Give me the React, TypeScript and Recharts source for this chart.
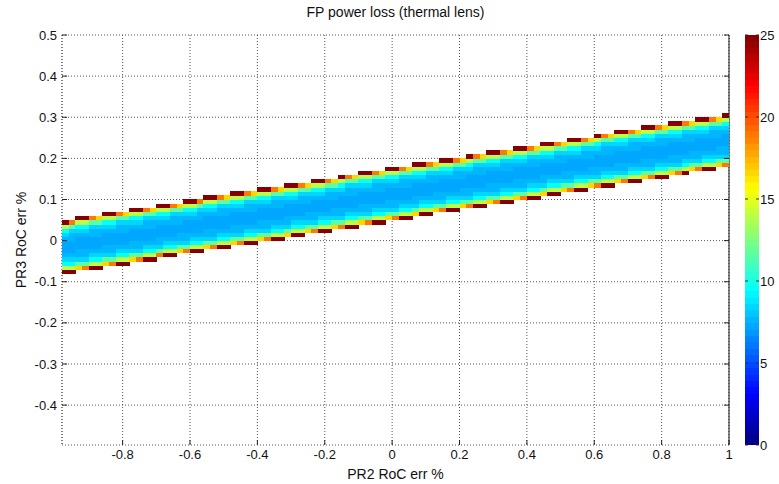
import { Bar, BarChart, CartesianGrid, Scatter, ScatterChart, XAxis, YAxis } from "recharts"

// PR2 RoC error grid (column centres, %) and PR3 RoC error grid (row centres, %)
const pr2First = -0.97
const pr2Step = 0.02
const pr2Count = 99
const pr3First = -0.495
const pr3Step = 0.01
const pr3Count = 100

// where the finite-loss band runs out, read at the first and last column
const bandPR2 = [-0.97, 0.99]
const bandUpper = [0.0498, 0.3075]
const bandLower = [-0.0793, 0.1784]

// loss (%) of a cell by how deep its centre sits inside the band edge (in rows)
const edgeDepth = [0, 0.5, 0.75, 1, 1.5, 2, 2.5, 3.5, 5]
const edgeLoss = [25, 19, 16.5, 14, 11.5, 9.5, 8.5, 7.6, 7.2]

const xTicks = [-0.8, -0.6, -0.4, -0.2, 0, 0.2, 0.4, 0.6, 0.8, 1]
const yTicks = [-0.4, -0.3, -0.2, -0.1, 0, 0.1, 0.2, 0.3, 0.4, 0.5]
const colorTicks = [0, 5, 10, 15, 20, 25]

const X_DOMAIN: [number, number] = [-0.98, 1]
const Y_DOMAIN: [number, number] = [-0.497, 0.5]
const C_MAX = 25

const W = 779
const H = 484
const PLOT = { left: 62, top: 35, right: 729, bottom: 445 }
const FONT = "'Liberation Sans', Arial, Helvetica, sans-serif"

function jet(v: number) {
  const idx = Math.min(63, Math.max(0, Math.floor((v / C_MAX) * 64)))
  const t = (idx + 0.5) / 64
  const ch = (k: number) => Math.round(255 * Math.min(1, Math.max(0, 1.5 - Math.abs(4 * t - k))))
  return `rgb(${ch(3)},${ch(2)},${ch(1)})`
}

function lossAt(depth: number) {
  let i = 0
  while (i + 1 < edgeDepth.length && depth >= edgeDepth[i + 1]) i++
  return edgeLoss[i]
}

type Cell = { x: number; y: number; loss: number }

const cells: Cell[] = []
for (let c = 0; c < pr2Count; c++) {
  const x = pr2First + c * pr2Step
  const f = (x - bandPR2[0]) / (bandPR2[1] - bandPR2[0])
  const top = bandUpper[0] + f * (bandUpper[1] - bandUpper[0])
  const bot = bandLower[0] + f * (bandLower[1] - bandLower[0])
  for (let r = 0; r < pr3Count; r++) {
    const y = pr3First + r * pr3Step
    if (y > top || y < bot) continue
    const depth = Math.min(top - y, y - bot) / pr3Step
    cells.push({ x, y, loss: lossAt(depth) })
  }
}

const plotW = PLOT.right - PLOT.left
const plotH = PLOT.bottom - PLOT.top
const cellW = (plotW * pr2Step) / (X_DOMAIN[1] - X_DOMAIN[0])
const cellH = (plotH * pr3Step) / (Y_DOMAIN[1] - Y_DOMAIN[0])

const CellShape = (props: any) => {
  const { cx, cy, payload } = props
  return (
    <rect
      x={cx - cellW / 2}
      y={cy - cellH / 2}
      width={cellW + 0.4}
      height={cellH + 0.4}
      fill={jet(payload.loss)}
      shapeRendering="crispEdges"
    />
  )
}

const fmt = (v: number) => String(v)
const TM = 5 // tick margin
const TL = 5 // inward tick length

const LeftTick = ({ x, y, payload }: any) => {
  const ax = x + TM
  return (
    <g>
      <line x1={ax} x2={ax + TL} y1={y} y2={y} stroke="#222" />
      <text x={x} y={y} dy="0.35em" textAnchor="end" fontSize={13} fill="#111" fontFamily={FONT}>
        {fmt(payload.value)}
      </text>
    </g>
  )
}

const RightTick = ({ x, y }: any) => {
  const ax = x - TM
  return <line x1={ax - TL} x2={ax} y1={y} y2={y} stroke="#222" />
}

const BottomTick = ({ x, y, payload }: any) => {
  const ay = y - TM
  return (
    <g>
      <line x1={x} x2={x} y1={ay} y2={ay - TL} stroke="#222" />
      <text x={x} y={y} dy="0.71em" textAnchor="middle" fontSize={13} fill="#111" fontFamily={FONT}>
        {fmt(payload.value)}
      </text>
    </g>
  )
}

const TopTick = ({ x, y }: any) => {
  const ay = y + TM
  return <line x1={x} x2={x} y1={ay} y2={ay + TL} stroke="#222" />
}

const ColorTick = ({ x, y, payload }: any) => {
  const ax = x - TM
  return (
    <g>
      <line x1={ax - 3} x2={ax} y1={y} y2={y} stroke="#333" />
      <line x1={ax - 14} x2={ax - 11} y1={y} y2={y} stroke="#333" />
      <text x={ax + 1} y={y} dy="0.35em" textAnchor="start" fontSize={13} fill="#111" fontFamily={FONT}>
        {payload.value}
      </text>
    </g>
  )
}

const colorbarData = [{ name: "loss", loss: C_MAX }]

export default function App() {
  return (
    <div style={{ position: "absolute", left: 0, top: 0, width: W, height: H, background: "#fff", fontFamily: FONT }}>
      <div
        style={{
          position: "absolute",
          left: PLOT.left,
          width: plotW,
          top: 4,
          textAlign: "center",
          fontSize: 14,
          color: "#111",
        }}
      >
        FP power loss (thermal lens)
      </div>

      <div style={{ position: "absolute", left: 0, top: 0 }}>
        <ScatterChart width={W} height={H} margin={{ top: PLOT.top - 5, right: W - PLOT.right - 10, bottom: 3, left: 6 }}>
          <CartesianGrid stroke="#555" strokeDasharray="1 2" />
          <XAxis
            type="number"
            dataKey="x"
            domain={X_DOMAIN}
            ticks={xTicks}
            allowDataOverflow
            height={H - PLOT.bottom - 3}
            tickSize={0}
            tickMargin={TM}
            tickLine={false}
            axisLine={false}
            tick={<BottomTick />}
            label={{ value: "PR2 RoC err %", position: "insideBottom", offset: 2, fontSize: 14, fill: "#111" }}
          />
          <XAxis
            xAxisId="top"
            orientation="top"
            type="number"
            domain={X_DOMAIN}
            ticks={xTicks}
            allowDataOverflow
            height={5}
            tickSize={0}
            tickMargin={TM}
            tickLine={false}
            axisLine={false}
            tick={<TopTick />}
          />
          <YAxis
            type="number"
            dataKey="y"
            domain={Y_DOMAIN}
            ticks={yTicks}
            allowDataOverflow
            width={PLOT.left - 6}
            tickSize={0}
            tickMargin={TM}
            tickLine={false}
            axisLine={{ stroke: "#555", strokeDasharray: "1 2" }}
            tick={<LeftTick />}
            label={{
              value: "PR3 RoC err %",
              angle: -90,
              position: "insideLeft",
              offset: 15,
              fontSize: 14,
              fill: "#111",
              style: { textAnchor: "middle" },
            }}
          />
          <YAxis
            yAxisId="right"
            orientation="right"
            type="number"
            domain={Y_DOMAIN}
            ticks={yTicks}
            allowDataOverflow
            width={10}
            tickSize={0}
            tickMargin={TM}
            tickLine={false}
            axisLine={{ stroke: "#111" }}
            tick={<RightTick />}
          />
          <Scatter data={cells} shape={<CellShape />} isAnimationActive={false} />
        </ScatterChart>
      </div>

      <div style={{ position: "absolute", left: 735, top: 0 }}>
        <BarChart
          width={44}
          height={H}
          data={colorbarData}
          barCategoryGap={0}
          margin={{ top: PLOT.top, right: 0, bottom: H - PLOT.bottom, left: 10 }}
        >
          <defs>
            <linearGradient id="jetBar" x1="0" y1="1" x2="0" y2="0">
              {Array.from({ length: 64 }).flatMap((_, i) => [
                <stop key={`a${i}`} offset={i / 64} stopColor={jet(((i + 0.5) / 64) * C_MAX)} />,
                <stop key={`b${i}`} offset={(i + 1) / 64} stopColor={jet(((i + 0.5) / 64) * C_MAX)} />,
              ])}
            </linearGradient>
          </defs>
          <XAxis dataKey="name" hide />
          <YAxis
            orientation="right"
            type="number"
            domain={[0, C_MAX]}
            ticks={colorTicks}
            width={20}
            tickSize={0}
            tickMargin={TM}
            tickLine={false}
            axisLine={false}
            tick={<ColorTick />}
          />
          <Bar dataKey="loss" fill="url(#jetBar)" isAnimationActive={false} />
        </BarChart>
      </div>
    </div>
  )
}
